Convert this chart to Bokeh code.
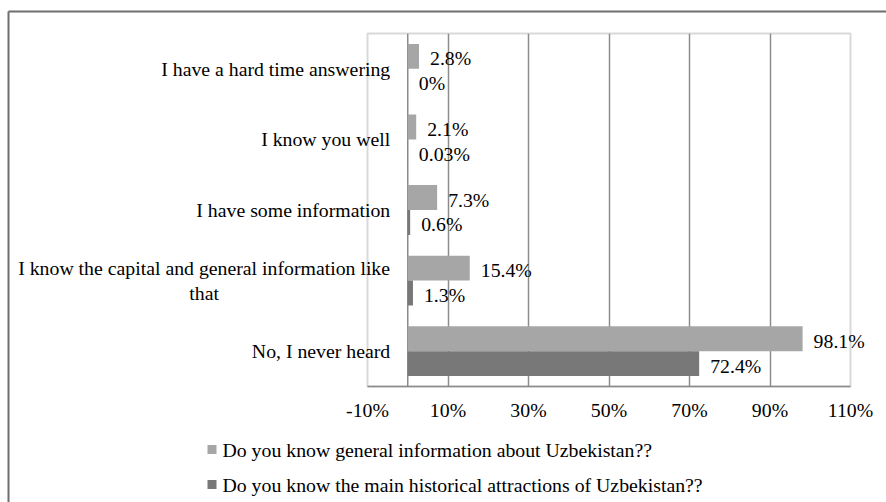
from bokeh.plotting import figure
from bokeh.models import ColumnDataSource, Range1d, FixedTicker, Span
from bokeh.transform import dodge
from bokeh.core.properties import value
from bokeh.embed import file_html
from bokeh.resources import INLINE

# Survey answers (top to bottom as displayed)
categories = [
    "I have a hard time answering",
    "I know you well",
    "I have some information",
    "I know the capital and general information like\nthat",
    "No, I never heard",
]
general_info = [2.8, 2.1, 7.3, 15.4, 98.1]
attractions = [0, 0.03, 0.6, 1.3, 72.4]
series_names = [
    "Do you know general information about Uzbekistan??",
    "Do you know the main historical attractions of Uzbekistan??",
]
x_ticks = [-10, 10, 30, 50, 70, 90, 110]

FONT = "Liberation Serif"
FSIZE_PX = 19.8
FSIZE = f"{FSIZE_PX}px"
LIGHT = "#a6a6a6"
DARK = "#787878"
SERIES_COLORS = [LIGHT, DARK]
BAR_H = 0.353
SHIFT = BAR_H / 2
LABEL_GAP = 17.5  # px between the zero line and the right edge of category names

# frame placement on the 886x502 page
FRAME_L, FRAME_R, FRAME_T, FRAME_B = 367, 850, 33, 386
# key below the chart: swatch left/right x, text start x, first row y, row step
KEY_X0, KEY_X1, KEY_TEXT_X, KEY_Y0, KEY_STEP = 207, 216, 222, 449, 35
KEY_SWATCH = 9

# Times-compatible advance widths (per 1000 em) used to centre wrapped names
_W = {" ": 250, "I": 333, ",": 250, "N": 722}
_W.update({c: w for c, w in zip(
    "abcdefghijklmnopqrstuvwxyz",
    [444, 500, 444, 500, 444, 333, 500, 500, 278, 278, 500, 278, 778,
     500, 500, 500, 500, 333, 389, 278, 500, 500, 722, 500, 500, 444])})


def text_width(s):
    return sum(_W.get(c, 500) for c in s) * FSIZE_PX / 1000.0


def pct(v):
    return f"{v:g}%"


n = len(categories)
# first category sits at the top of the chart
slot = [n - 1 - i for i in range(n)]

src = ColumnDataSource(dict(
    cat=categories,
    slot=slot,
    general=general_info,
    attr=attractions,
    general_lbl=[pct(v) for v in general_info],
    attr_lbl=[pct(v) for v in attractions],
))

p = figure(
    width=886, height=502,
    y_range=Range1d(-0.5, n - 0.5),
    x_range=Range1d(x_ticks[0], x_ticks[-1]),
    output_backend="svg", toolbar_location=None,
    min_border_left=FRAME_L, min_border_right=886 - FRAME_R,
    min_border_top=FRAME_T, min_border_bottom=502 - FRAME_B,
)
p.background_fill_color = "white"
p.border_fill_color = "white"
p.outline_line_color = "#d9d9d9"
p.outline_line_width = 2

# page-pixel ranges for the key and the page border
p.extra_x_ranges = {"px": Range1d(FRAME_L, FRAME_R)}
p.extra_y_ranges = {"px": Range1d(FRAME_B, FRAME_T)}

# axes
p.yaxis.visible = False
xa = p.xaxis[0]
xa.ticker = FixedTicker(ticks=x_ticks)
xa.major_label_overrides = {t: pct(t) for t in x_ticks}
xa.axis_line_color = "#898989"
xa.axis_line_width = 1.5
xa.major_tick_line_color = None
xa.minor_tick_line_color = None
xa.major_label_standoff = 6
xa.major_label_text_font = FONT
xa.major_label_text_font_size = FSIZE
xa.major_label_text_color = "black"

# grid
p.ygrid.grid_line_color = None
p.xgrid.ticker = FixedTicker(ticks=[t for t in x_ticks if x_ticks[0] < t < x_ticks[-1]])
p.xgrid.grid_line_color = "#8c8c8c"
p.xgrid.grid_line_width = 1.5

# vertical category axis at zero
p.add_layout(Span(location=0, dimension="height", line_color="#8a8a8a",
                  line_width=1.5, level="underlay"))

# bars
p.hbar(y=dodge("slot", SHIFT), left=0, right="general",
       height=BAR_H, fill_color=LIGHT, line_color=None, source=src)
p.hbar(y=dodge("slot", -SHIFT), left=0, right="attr",
       height=BAR_H, fill_color=DARK, line_color=None, source=src)

# value labels
for col, lbl, sh in (("general", "general_lbl", SHIFT), ("attr", "attr_lbl", -SHIFT)):
    p.text(x=col, y=dodge("slot", sh), text=lbl, source=src,
           x_offset=11, y_offset=2, text_align="left", text_baseline="middle",
           text_font=value(FONT), text_font_size=FSIZE, text_color="black",
           level="overlay")

# category names: single lines right-aligned, wrapped names centred as a block
single = [(c, s) for c, s in zip(categories, slot) if "\n" not in c]
wrapped = [(c, s) for c, s in zip(categories, slot) if "\n" in c]
p.text(x=[0] * len(single), y=[s for _, s in single], text=[c for c, _ in single],
       x_offset=-LABEL_GAP, text_align="right", text_baseline="middle",
       text_font=value(FONT), text_font_size=FSIZE, text_color="black",
       level="overlay")
for c, s in wrapped:
    half = max(text_width(line) for line in c.split("\n")) / 2
    p.text(x=[0], y=[s], text=[c], x_offset=-LABEL_GAP - half,
           text_align="center", text_baseline="middle", text_line_height=1.15,
           text_font=value(FONT), text_font_size=FSIZE, text_color="black",
           level="overlay")

# series key under the chart: a thick short stroke gives each square swatch
m = len(series_names)
key_y = [KEY_Y0 + i * KEY_STEP for i in range(m)]
p.segment(x0=[KEY_X0] * m, y0=key_y, x1=[KEY_X1] * m, y1=key_y,
          line_color=SERIES_COLORS, line_width=KEY_SWATCH, line_cap="butt",
          x_range_name="px", y_range_name="px", level="overlay")
p.text(x=[KEY_TEXT_X] * m, y=key_y, text=series_names,
       text_align="left", text_baseline="middle",
       text_font=value(FONT), text_font_size=FSIZE, text_color="black",
       x_range_name="px", y_range_name="px", level="overlay")

# chart area border (top and left edges)
p.segment(x0=[8, 8], y0=[11, 11], x1=[886, 8], y1=[11, 502],
          x_range_name="px", y_range_name="px",
          line_color="#6e6e6e", line_width=2, level="overlay")

open("out.html", "w").write(file_html(p, INLINE))
